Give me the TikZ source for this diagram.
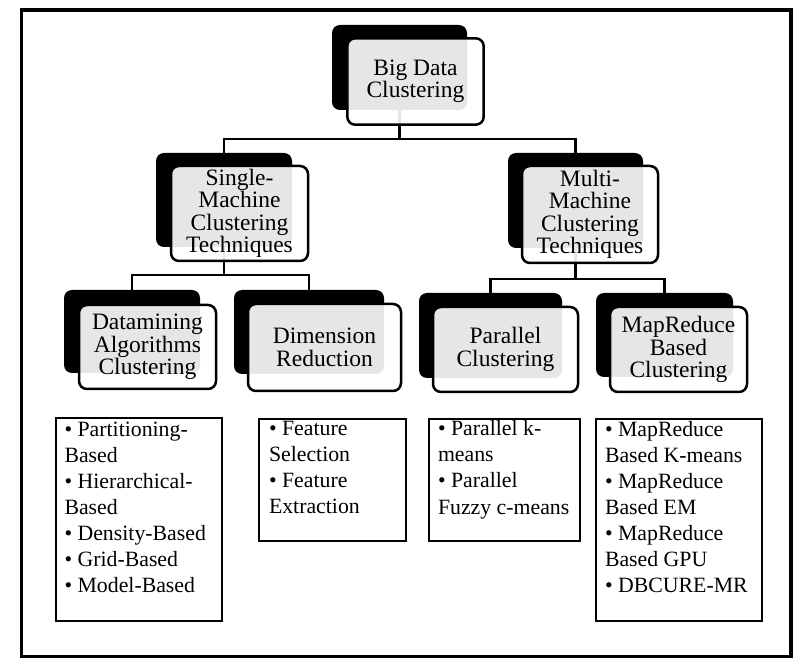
\documentclass[tikz,border=0pt]{standalone}
\usepackage{fontspec}
\setmainfont{Liberation Serif}
\pgfdeclarelayer{bg}
\pgfsetlayers{bg,main}
\begin{document}
\begin{tikzpicture}[x=1pt,y=-1pt,
  back/.style={fill=black, rounded corners=8pt, inner sep=0pt, outer sep=0pt},
  front/.style={draw=black, line width=2.5pt, rounded corners=8pt, fill=white, fill opacity=0.9, text opacity=1, inner sep=0pt, outer sep=0pt, align=center, font=\fontsize{23.5pt}{22.5pt}\selectfont},
  listbox/.style={draw=black, line width=2.5pt, inner sep=0pt, outer sep=0pt},
  listtext/.style={anchor=base west, inner sep=0pt, outer sep=0pt, font=\fontsize{21.8pt}{26pt}\selectfont},
  conn/.style={draw=black, line width=2.5pt},
  framebox/.style={draw=black, line width=3.3pt, inner sep=0pt, outer sep=0pt}
]
\useasboundingbox (0,0) rectangle (812,668);
\node[framebox, minimum width=769.3pt, minimum height=646.7pt] (frame) at (406.35,333.35) {};

% level 1
\node[back, minimum width=135pt, minimum height=85pt] (bdb) at (399.5,67.5) {};
\node[front, minimum width=136.4pt, minimum height=86.4pt] (bdf) at (415.5,81.5) {Big Data\\Clustering};

% level 2
\node[back, minimum width=136pt, minimum height=94pt] (smb) at (224,200) {};
\node[front, minimum width=137pt, minimum height=95pt] (smf) at (239.5,213.5) {Single-\\Machine\\Clustering\\Techniques};
\node[back, minimum width=135pt, minimum height=95pt] (mmb) at (575.5,200.5) {};
\node[front, minimum width=136pt, minimum height=97pt] (mmf) at (590,214.5) {Multi-\\Machine\\Clustering\\Techniques};

% level 3
\node[back, minimum width=136pt, minimum height=83pt] (dab) at (132,331.5) {};
\node[front, minimum width=137pt, minimum height=84pt] (daf) at (147.5,347) {Datamining\\Algorithms\\Clustering};
\node[back, minimum width=150pt, minimum height=84pt] (drb) at (309,332) {};
\node[front, minimum width=153pt, minimum height=87pt] (drf) at (324.5,347.5) {Dimension\\Reduction};
\node[back, minimum width=143pt, minimum height=85pt] (pcb) at (490.5,335.5) {};
\node[front, minimum width=145pt, minimum height=85pt] (pcf) at (505.5,349.5) {Parallel\\Clustering};
\node[back, minimum width=137pt, minimum height=84pt] (mrb) at (664.5,335) {};
\node[front, minimum width=137pt, minimum height=85pt] (mrf) at (678.5,349.5) {MapReduce\\Based\\Clustering};

% lists
\node[listbox, minimum width=166pt, minimum height=203pt] (l1) at (139,519.5) {};
\node[listbox, minimum width=147pt, minimum height=122pt] (l2) at (332.5,480) {};
\node[listbox, minimum width=151pt, minimum height=122pt] (l3) at (504.5,480) {};
\node[listbox, minimum width=166pt, minimum height=202pt] (l4) at (679,520) {};

\node[listtext] (t1) at (64.5,436.5) {\parbox[t]{155pt}{\raggedright • Partitioning-\\Based\\• Hierarchical-\\Based\\• Density-Based\\• Grid-Based\\• Model-Based}};
\node[listtext] (t2) at (269,435.5) {\parbox[t]{135pt}{\raggedright • Feature\\Selection\\• Feature\\Extraction}};
\node[listtext] (t3) at (438,436) {\parbox[t]{140pt}{\raggedright • Parallel k-\\means\\• Parallel\\Fuzzy c-means}};
\node[listtext] (t4) at (605,437) {\parbox[t]{155pt}{\raggedright • MapReduce\\Based K-means\\• MapReduce\\Based EM\\• MapReduce\\Based GPU\\• DBCURE-MR}};

% connectors
\begin{pgfonlayer}{bg}
\coordinate (j1) at (399.5,139);
\coordinate (j2) at (224,275);
\coordinate (j3) at (575.5,279);
\draw[conn] (bdb.center) -- (j1);
\draw[conn] (smb.center) |- (j1) -| (mmb.center);
\draw[conn] (smb.center) -- (j2);
\draw[conn] (dab.center) |- (j2) -| (drb.center);
\draw[conn] (mmb.center) -- (j3);
\draw[conn] (pcb.center) |- (j3) -| (mrb.center);
\end{pgfonlayer}
\end{tikzpicture}
\end{document}
